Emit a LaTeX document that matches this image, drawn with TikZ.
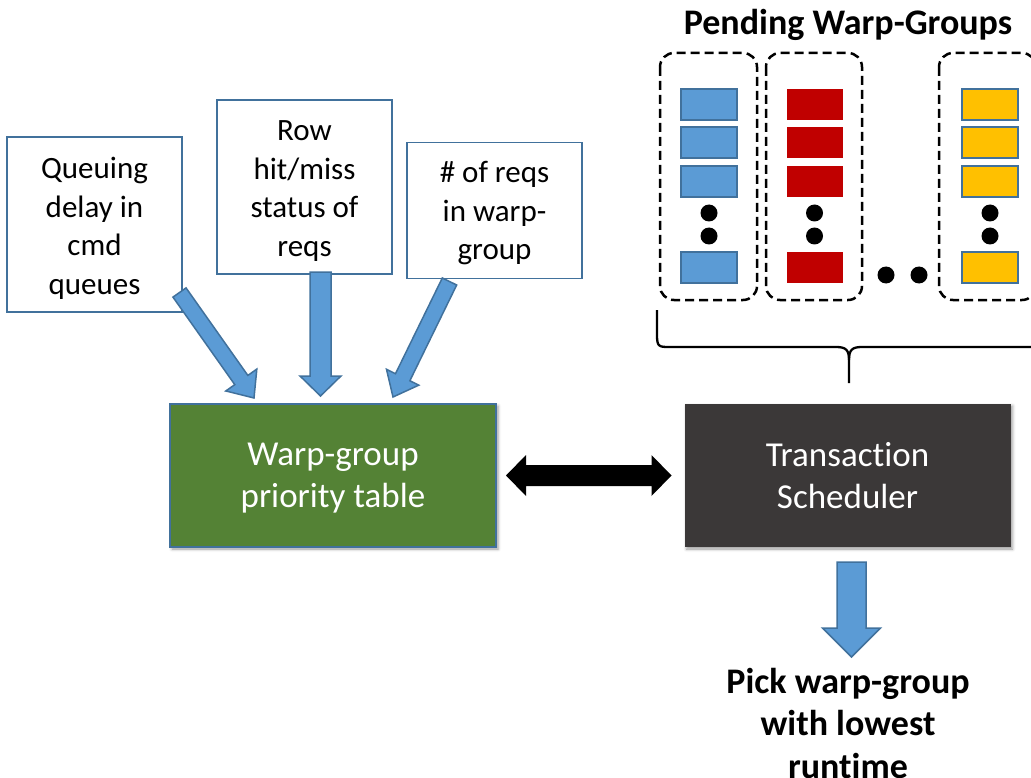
\documentclass[tikz,border=0pt]{standalone}
\usepackage{fontspec}
\setmainfont{Carlito}[Ligatures=CommonOff]
\usetikzlibrary{calc,shadows.blur}

\definecolor{edgeblue}{HTML}{41719C}
\definecolor{fillblue}{HTML}{5B9BD5}
\definecolor{tablegreen}{HTML}{548235}
\definecolor{schedgray}{HTML}{3B3838}
\definecolor{reqred}{HTML}{C00000}
\definecolor{reqyellow}{HTML}{FFC000}

\tikzset{
  infobox/.style={draw=edgeblue, line width=1.5pt, fill=white, inner sep=0pt,
    minimum width=175pt},
  infotext/.style={align=center, inner sep=0pt, font=\fontsize{31}{38.5}\selectfont},
  mainbox/.style={line width=2pt, inner sep=0pt,
    minimum width=326pt, minimum height=143pt,
    blur shadow={shadow xshift=2pt, shadow yshift=-2pt, shadow blur radius=3pt, shadow opacity=40}},
  maintext/.style={align=center, inner sep=0pt, text=white, font=\fontsize{35}{42}\selectfont},
  barrow/.style={draw=edgeblue, fill=fillblue, line width=1.5pt, line join=miter},
  blackarrow/.style={fill=black},
  groupbox/.style={draw, dash pattern=on 9pt off 5pt, line width=2.5pt, rounded corners=14pt},
  reqbox/.style={minimum width=56pt, minimum height=31pt, inner sep=0pt},
  bluereq/.style={reqbox, fill=fillblue, draw=edgeblue, line width=1.5pt},
  redreq/.style={reqbox, fill=reqred},
  yellowreq/.style={reqbox, fill=reqyellow, draw=edgeblue, line width=1.5pt},
  bracepath/.style={line width=2.3pt, line join=round},
  boldlabel/.style={align=center, font=\bfseries\fontsize{36}{42.5}\selectfont},
}

% block arrow: name, from, to, shaft half width, head half width, head length
\newcommand\blockarrow[6]{%
  \coordinate (#1h) at ($(#3)!#6!(#2)$);
  \draw[barrow] ($(#2)!#4!90:(#3)$) -- ($(#1h)!#4!90:(#3)$) -- ($(#1h)!#5!90:(#3)$)
    -- (#3) -- ($(#1h)!#5!-90:(#3)$) -- ($(#1h)!#4!-90:(#3)$) -- ($(#2)!#4!-90:(#3)$) -- cycle;
}

\begin{document}
\begin{tikzpicture}[x=1pt, y=-1pt]
\useasboundingbox (0,0) rectangle (1031,778);

% input boxes
\node[infobox, minimum height=175pt] (queue) at (94.5,224.5) {};
\node[infotext] (queuetext) at ($(queue.center)+(0,4)$) {Queuing\\delay in\\cmd\\queues};
\node[infobox, minimum height=174pt] (rowhit) at (304.5,187) {};
\node[infotext] (rowhittext) at ($(rowhit.center)+(0,4)$) {Row\\hit/miss\\status of\\reqs};
\node[infobox, minimum height=136pt] (nreqs) at (494.5,210.5) {};
\node[infotext] (nreqstext) at ($(nreqs.center)+(0,3)$) {\# of reqs\\in warp-\\group};

% main blocks
\node[mainbox, fill=tablegreen, draw=edgeblue] (table) at (333,475.5) {};
\node[maintext] (tabletext) at ($(table.center)+(0,3)$) {Warp-group\\priority table};
\node[mainbox, fill=schedgray] (sched) at (847.5,475.5) {};
\node[maintext] (schedtext) at ($(sched.center)+(0,0)$) {Transaction\\Scheduler};

% inputs feeding the priority table
\coordinate (q1s) at (179.5,292.5); \coordinate (q1e) at (254,398);
\coordinate (q2s) at (320.5,272);   \coordinate (q2e) at (320.5,396);
\coordinate (q3s) at (449.5,281.5); \coordinate (q3e) at (393,397);
\blockarrow{qa}{q1s}{q1e}{8pt}{19pt}{22pt}
\blockarrow{qb}{q2s}{q2e}{10.5pt}{20.5pt}{20pt}
\blockarrow{qc}{q3s}{q3e}{8pt}{18pt}{22pt}

% two-way link between table and scheduler
\coordinate (dl) at ($(table.east)+(9,0)$);
\coordinate (dr) at ($(sched.west)+(-12,0)$);
\fill[blackarrow] (dl) -- ++(20,-20.5) -- ++(0,10) -- ($(dr)+(-20,-10.5)$) -- ++(0,-10)
  -- (dr) -- ++(-20,20.5) -- ++(0,-10) -- ($(dl)+(20,10.5)$) -- ++(0,10) -- cycle;

% scheduler output
\coordinate (ds) at ($(sched.south)+(4,14)$);
\coordinate (de) at ($(sched.south)+(4,109)$);
\blockarrow{out}{ds}{de}{14.5pt}{29pt}{29pt}

\node[boldlabel] (pick) at (848,723) {Pick warp-group\\with lowest\\runtime};

% pending warp-groups
\node[font=\bfseries\fontsize{36}{42}\selectfont] (title) at (848,25) {Pending Warp-Groups};
\draw[groupbox] (660,53) rectangle (757,300);
\draw[groupbox] (766,53) rectangle (862,300);
\draw[groupbox] (939,53) rectangle (1036,300);

\foreach \y [count=\i] in {104.5,142.5,181.5,267.5} {
  \node[bluereq] (b\i) at (709,\y) {};
  \node[redreq] (r\i) at (814.5,\y) {};
  \node[yellowreq] (y\i) at (990,\y) {};
}
\foreach \x in {709,814.5,990} {
  \fill (\x,213) circle (8.5pt);
  \fill (\x,236) circle (8.5pt);
}
\fill (886,275) circle (8.5pt);
\fill (919,275) circle (8.5pt);

% brace grouping the warp-groups
\draw[bracepath] (657,310) -- (657,335) .. controls (657,347) and (659,347) .. (670,347)
  -- (836,347) .. controls (846,347) and (849,350) .. (849,360) -- (849,383);
\draw[bracepath] (849,360) .. controls (849,350) and (852,347) .. (862,347)
  -- (1028,347) .. controls (1039,347) and (1041,347) .. (1041,335) -- (1041,310);
\end{tikzpicture}
\end{document}
